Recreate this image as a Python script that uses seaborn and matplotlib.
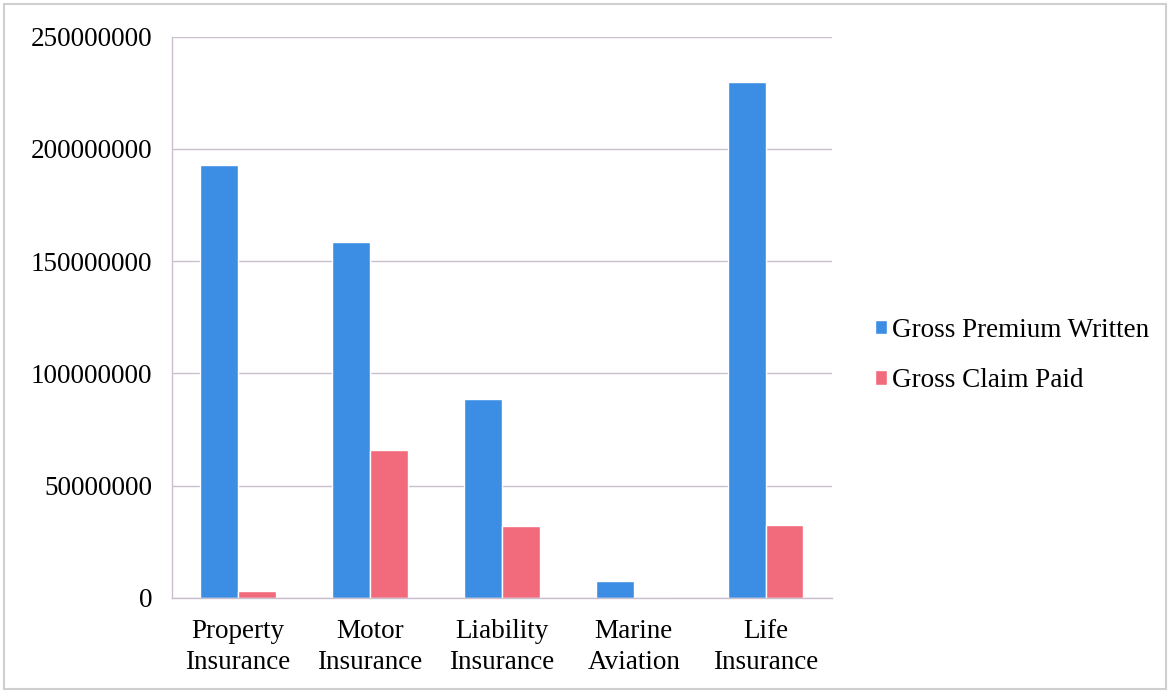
import pandas as pd
import numpy as np
import matplotlib.pyplot as plt
import seaborn as sns
from matplotlib.patches import Rectangle
from matplotlib.ticker import FixedLocator

# data
categorias = ['Property\nInsurance', 'Motor\nInsurance', 'Liability\nInsurance',
              'Marine\nAviation', 'Life\nInsurance']
premio_bruto = [193000000, 158500000, 88500000, 7500000, 230000000]
sinistro_pago = [3000000, 66000000, 32000000, 0, 32500000]
series = ['Gross Premium Written', 'Gross Claim Paid']
y_ticks = [0, 50000000, 100000000, 150000000, 200000000, 250000000]

df = pd.DataFrame({
    'categoria': categorias * 2,
    'valor': premio_bruto + sinistro_pago,
    'serie': [series[0]] * 5 + [series[1]] * 5,
})

sns.set_style('white')
plt.rcParams['font.family'] = ['Liberation Serif', 'DejaVu Serif']
plt.rcParams['text.color'] = 'black'
plt.rcParams['xtick.color'] = 'black'
plt.rcParams['ytick.color'] = 'black'

cor_azul = '#3b8ee4'
cor_rosa = '#f26b7c'
cor_eixo = '#c9bfcf'

fig = plt.figure(figsize=(11.7, 6.92), dpi=100)
ax = fig.add_axes([0.147, 0.136, 0.564, 0.811])

sns.barplot(data=df, x='categoria', y='valor', hue='serie',
            palette={series[0]: cor_azul, series[1]: cor_rosa},
            width=0.57, gap=0, saturation=1, ax=ax, errorbar=None)

ax.set_ylim(0, 250000000)
ax.set_yticks(y_ticks)
ax.set_yticklabels([str(v) for v in y_ticks], fontsize=19.5)
ax.set_xlim(-0.5, 4.5)
ax.set_xlabel('')
ax.set_ylabel('')
ax.tick_params(axis='x', which='major', length=0, labelsize=19.5, pad=15)
for rotulo in ax.get_xticklabels():
    rotulo.set_linespacing(1.35)
ax.xaxis.set_minor_locator(FixedLocator(np.arange(-0.5, 5, 1)))
ax.tick_params(axis='x', which='minor', length=6, color=cor_eixo, width=1)
ax.tick_params(axis='y', length=6, color=cor_eixo, width=1, pad=8)

ax.grid(axis='y', color=cor_eixo, linewidth=1)
ax.set_axisbelow(True)
for lado in ['top', 'right']:
    ax.spines[lado].set_visible(False)
for lado in ['left', 'bottom']:
    ax.spines[lado].set_color(cor_eixo)
    ax.spines[lado].set_linewidth(1)

handles, labels = ax.get_legend_handles_labels()
ax.legend(handles, labels, loc='center left', bbox_to_anchor=(1.028, 0.432),
          frameon=False, fontsize=19.5, handlelength=0.45, handleheight=0.45,
          handletextpad=0.2, labelspacing=0.95)

# moldura externa da figura
fig.patches.append(Rectangle((0.003, 0.004), 0.994, 0.99, transform=fig.transFigure,
                             fill=False, edgecolor='#cfcfcf', linewidth=1.5))

plt.savefig('out.png', dpi=100)
plt.close()
